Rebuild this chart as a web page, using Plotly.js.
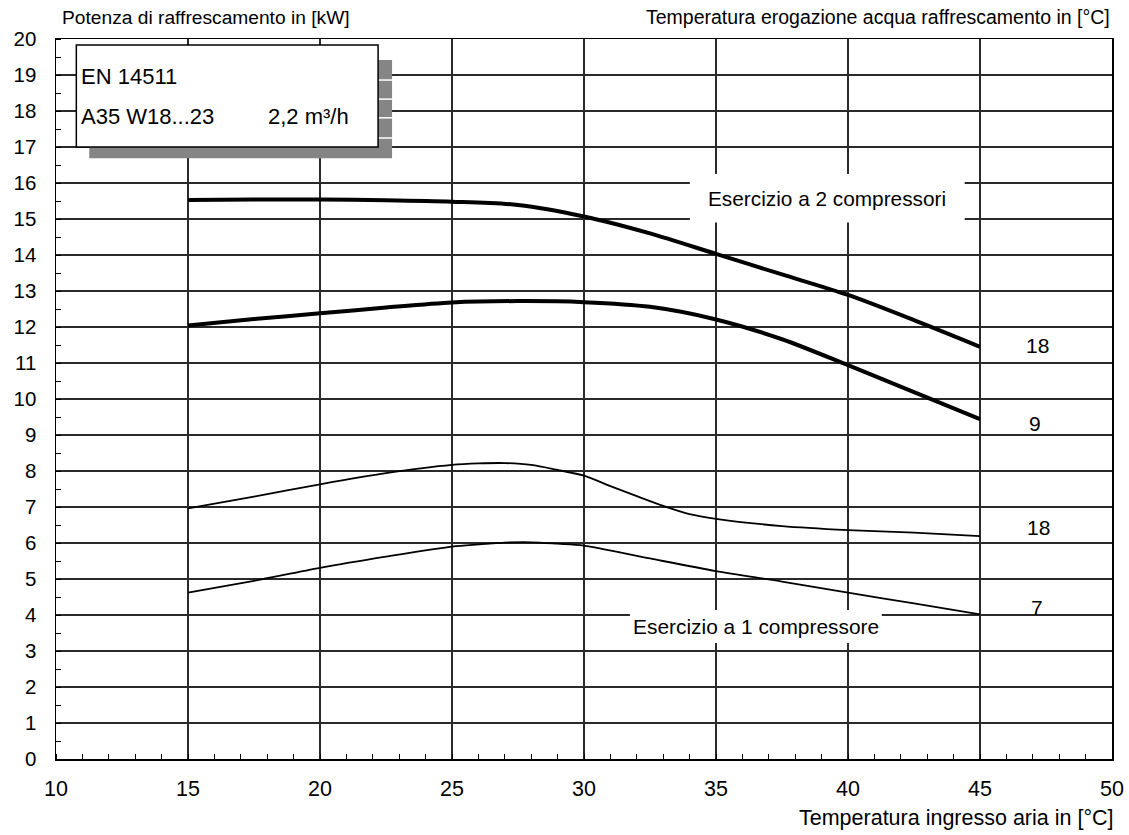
<!DOCTYPE html>
<html>
<head>
<meta charset="utf-8">
<script src="https://cdn.plot.ly/plotly-3.0.1.min.js"></script>
<style>html,body{margin:0;padding:0;background:#fff;}#chart{width:1129px;height:835px;}</style>
</head>
<body>
<div id="chart"></div>
<script>
// Air inlet temperature [°C]
const xTwo = [15, 17.5, 20, 22.5, 25, 27.5, 30, 32.5, 35, 37.5, 40, 42.5, 45];
// 2 compressors, water outlet 18 °C
const twoComp18 = [15.53, 15.54, 15.54, 15.52, 15.48, 15.39, 15.07, 14.6, 14.03, 13.46, 12.89, 12.19, 11.45];
// 2 compressors, water outlet 9 °C
const twoComp9 = [12.04, 12.22, 12.38, 12.54, 12.68, 12.72, 12.69, 12.56, 12.21, 11.66, 10.94, 10.19, 9.44];

const xOne18 = [15, 17.5, 20, 22.5, 25, 26, 27, 28, 29, 30, 31, 32, 33, 34, 35, 37.5, 40, 42.5, 45];
// 1 compressor, water outlet 18 °C
const oneComp18 = [6.96, 7.29, 7.63, 7.94, 8.17, 8.21, 8.22, 8.17, 8.03, 7.87, 7.58, 7.3, 7.03, 6.8, 6.67, 6.47, 6.36, 6.29, 6.19];

const xOne7 = [15, 17.5, 20, 22.5, 25, 26, 27, 28, 29, 30, 32.5, 35, 37.5, 40, 42.5, 45];
// 1 compressor, water outlet 7 °C
const oneComp7 = [4.62, 4.95, 5.31, 5.62, 5.9, 5.96, 6.01, 6.02, 5.98, 5.93, 5.57, 5.22, 4.93, 4.62, 4.32, 4.02];

const curveLabels = ["18", "9", "18", "7"];
const xTickVals = [10, 15, 20, 25, 30, 35, 40, 45, 50];
const yTickVals = [0,1,2,3,4,5,6,7,8,9,10,11,12,13,14,15,16,17,18,19,20];

const FONT = '"Liberation Sans", Arial, Helvetica, sans-serif';

function line(x, y, w) {
  return {x: x, y: y, type: 'scatter', mode: 'lines',
    line: {color: '#000', width: w, shape: 'spline', smoothing: 0.8},
    hoverinfo: 'skip', showlegend: false};
}

const traces = [
  line(xTwo, twoComp18, 4),
  line(xTwo, twoComp9, 4),
  line(xOne18, oneComp18, 1.8),
  line(xOne7, oneComp7, 1.8)
];

const shapes = [
  // shadow of info box
  {type: 'rect', xref: 'x', yref: 'y', x0: 11.26, x1: 22.73, y0: 16.69, y1: 19.42, fillcolor: '#858585', line: {width: 0}, layer: 'above'},
  {type: 'line', xref: 'x', yref: 'y', x0: 22.2, x1: 22.8, y0: 18.86, y1: 18.86, line: {color: '#fff', width: 1.5}, layer: 'above'},
  {type: 'line', xref: 'x', yref: 'y', x0: 22.2, x1: 22.8, y0: 18.33, y1: 18.33, line: {color: '#fff', width: 1.5}, layer: 'above'},
  {type: 'line', xref: 'x', yref: 'y', x0: 22.2, x1: 22.8, y0: 17.81, y1: 17.81, line: {color: '#fff', width: 1.5}, layer: 'above'},
  {type: 'line', xref: 'x', yref: 'y', x0: 22.2, x1: 22.8, y0: 17.25, y1: 17.25, line: {color: '#fff', width: 1.5}, layer: 'above'},
  // info box
  {type: 'rect', xref: 'x', yref: 'y', x0: 10.77, x1: 22.2, y0: 17.0, y1: 19.83, fillcolor: '#fff', line: {color: '#000', width: 1.5}, layer: 'above'},
  // white backgrounds behind mode labels
  {type: 'rect', xref: 'x', yref: 'y', x0: 34.01, x1: 44.42, y0: 14.9, y1: 16.25, fillcolor: '#fff', line: {width: 0}, layer: 'above'},
  {type: 'rect', xref: 'x', yref: 'y', x0: 31.74, x1: 41.28, y0: 3.22, y1: 4.14, fillcolor: '#fff', line: {width: 0}, layer: 'above'}
];

const txt = (text, x, y, size, xanchor, ref) => ({
  text: text, x: x, y: y, xref: ref || 'x', yref: ref || 'y', showarrow: false,
  xanchor: xanchor || 'center', yanchor: 'middle',
  font: {family: FONT, size: size, color: '#000'}
});

const annotations = [
  txt('EN 14511', 10.86, 18.95, 22, 'left'),
  txt('A35 W18...23', 10.86, 17.84, 22, 'left'),
  txt('2,2 m³/h', 17.95, 17.84, 22, 'left'),
  txt('Esercizio a 2 compressori', 39.2, 15.58, 20.8, 'center'),
  txt('Esercizio a 1 compressore', 36.5, 3.69, 20.9, 'center'),
  txt(curveLabels[0], 47.16, 11.48, 21, 'center'),
  txt(curveLabels[1], 47.1, 9.33, 21, 'center'),
  txt(curveLabels[2], 47.2, 6.42, 21, 'center'),
  txt(curveLabels[3], 47.14, 4.22, 21, 'center'),
  // axis titles
  {text: 'Potenza di raffrescamento in [kW]', xref: 'paper', yref: 'paper', x: 0.004, y: 1.0, yshift: 22,
   xanchor: 'left', yanchor: 'middle', showarrow: false, font: {family: FONT, size: 19.2, color: '#000'}},
  {text: 'Temperatura erogazione acqua raffrescamento in [°C]', xref: 'paper', yref: 'paper', x: 1.0, y: 1.0, yshift: 22,
   xanchor: 'right', yanchor: 'middle', showarrow: false, font: {family: FONT, size: 19.5, color: '#000'}},
  {text: 'Temperatura ingresso aria in [°C]', xref: 'paper', yref: 'paper', x: 1.004, y: 0, yshift: -59,
   xanchor: 'right', yanchor: 'middle', showarrow: false, font: {family: FONT, size: 21.5, color: '#000'}}
];

const layout = {
  width: 1129, height: 835,
  margin: {l: 56, r: 17, t: 39, b: 76, pad: 0},
  paper_bgcolor: '#fff', plot_bgcolor: '#fff',
  showlegend: false,
  xaxis: {
    range: [10, 50], tickvals: xTickVals, ticktext: xTickVals.map(String),
    showgrid: true, gridcolor: '#2a2a2a', gridwidth: 1.2, zeroline: false,
    showline: true, mirror: true, linecolor: '#000', linewidth: 1.5,
    ticks: '', ticklabelstandoff: 10,
    tickfont: {family: FONT, size: 21.5, color: '#000'},
    minor: {dtick: 1, ticks: 'inside', ticklen: 5, tickcolor: '#000', tickwidth: 1, showgrid: false},
    fixedrange: true
  },
  yaxis: {
    range: [0, 20], tickvals: yTickVals, ticktext: yTickVals.map(String),
    showgrid: true, gridcolor: '#2a2a2a', gridwidth: 1.2, zeroline: false,
    showline: true, mirror: true, linecolor: '#000', linewidth: 1.5,
    ticks: '', ticklabelstandoff: 14,
    tickfont: {family: FONT, size: 20.5, color: '#000'},
    minor: {dtick: 0.5, ticks: 'inside', ticklen: 5, tickcolor: '#000', tickwidth: 1, showgrid: false},
    fixedrange: true
  },
  shapes: shapes,
  annotations: annotations
};

Plotly.newPlot('chart', traces, layout, {displayModeBar: false, staticPlot: true});
</script>
</body>
</html>
